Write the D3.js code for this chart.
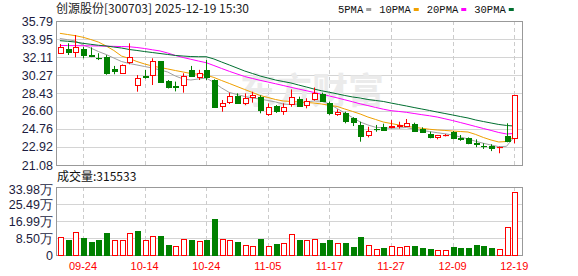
<!DOCTYPE html>
<html lang="zh">
<head>
<meta charset="utf-8">
<title>创源股份 日K</title>
<script src="https://cdn.jsdelivr.net/npm/d3@7/dist/d3.min.js"></script>
<style>
  body { margin: 0; background: #fff; }
  svg { display: block; font-family: "Liberation Sans", Arial, sans-serif; }
</style>
</head>
<body>
<div id="chart"></div>
<script>
// trading days
var dates = ["09-19","09-22","09-23","09-24","09-25","09-26","09-29","09-30","10-09","10-10",
             "10-13","10-14","10-15","10-16","10-17","10-20","10-21","10-22","10-23","10-24",
             "10-27","10-28","10-29","10-30","10-31","11-03","11-04","11-05","11-06","11-07",
             "11-10","11-11","11-12","11-13","11-14","11-17","11-18","11-19","11-20","11-21",
             "11-24","11-25","11-26","11-27","11-28","12-01","12-02","12-03","12-04","12-05",
             "12-08","12-09","12-10","12-11","12-12","12-15","12-16","12-17","12-18","12-19"];

var open  = [32.59,32.93,32.65,32.93,32.30,32.05,32.15,30.85,30.45,31.63,
             29.32,30.20,30.27,31.70,29.66,29.20,29.32,30.80,30.10,30.80,
             29.76,27.03,27.48,28.10,27.38,27.95,28.05,26.36,27.10,26.63,
             27.30,27.82,27.20,27.90,28.33,27.38,26.26,26.42,25.85,25.17,
             24.14,24.80,24.99,25.00,25.10,25.10,25.27,24.79,24.24,23.87,
             24.10,24.45,23.85,23.80,23.28,23.05,23.05,22.92,24.07,23.81];
var high  = [33.44,33.51,34.36,33.16,33.10,32.50,32.30,31.20,31.35,33.51,
             30.27,30.80,31.98,31.70,29.76,29.60,30.45,31.20,30.80,31.80,
             29.83,27.72,28.47,28.40,28.40,28.57,28.20,27.38,27.20,27.38,
             28.80,28.06,27.90,29.00,28.47,27.55,26.77,26.52,25.96,25.50,
             24.99,25.17,25.30,25.67,25.50,25.78,25.40,24.93,24.48,24.15,
             24.24,24.55,24.14,23.90,23.70,23.30,23.20,22.96,25.34,28.24];
var low   = [32.47,32.32,32.08,31.98,32.10,31.80,30.30,30.35,30.40,31.37,
             28.57,29.90,29.25,29.60,28.90,28.60,28.47,30.10,29.76,29.76,
             26.97,26.52,27.31,27.38,27.20,27.45,26.36,26.10,26.40,26.20,
             27.03,27.03,26.87,27.65,27.55,26.20,26.10,25.34,25.06,23.46,
             23.90,24.48,24.60,24.83,24.80,25.00,24.48,24.38,23.80,23.70,
             24.00,23.70,23.55,23.20,22.90,22.72,22.50,22.28,23.40,23.30];
var close = [33.16,32.65,33.16,32.32,32.20,32.00,30.55,30.60,31.30,32.14,
             30.00,30.10,31.70,29.60,29.00,29.10,30.20,30.15,30.50,30.10,
             27.03,27.38,28.10,27.38,27.90,28.20,26.70,27.03,26.63,27.03,
             28.06,27.14,27.65,28.47,27.65,26.36,26.46,25.58,25.40,24.04,
             24.55,24.76,24.72,25.10,25.20,25.37,24.60,24.48,23.90,24.11,
             24.14,23.80,23.78,23.25,23.22,23.00,22.85,22.96,23.53,28.24];

var volume = [91500,75000,113000,86000,66000,75000,111000,75000,75000,108000,
              120000,75000,95000,95000,50000,45000,80000,75000,70000,75000,
              180000,80000,75000,63000,50000,45000,80000,45000,55000,58000,
              105000,75000,75000,80000,58000,75000,58000,58000,40000,90000,
              50000,30000,34000,45000,38000,45000,45000,33000,30000,25000,
              25000,40000,35000,35000,50000,45000,35000,30000,140000,315533];

var ma5  = [34.00,33.88,33.75,33.34,33.03,32.67,32.37,32.01,31.65,31.45,
            31.30,31.14,30.99,30.79,30.58,30.17,29.87,29.76,29.87,29.97,
            29.51,28.95,28.49,28.28,28.08,27.92,27.82,27.67,27.52,27.31,
            27.26,27.31,27.52,27.62,27.59,27.31,26.85,26.39,25.93,25.47,
            25.17,24.93,24.88,24.83,24.86,24.91,24.74,24.61,24.50,24.38,
            24.27,24.15,23.94,23.74,23.50,23.30,23.12,22.95,22.99,23.95];
var ma10 = [34.53,34.41,34.29,34.13,33.90,33.64,33.24,32.78,32.21,31.96,
            31.65,31.40,31.19,31.04,30.89,30.73,30.58,30.43,30.35,30.27,
            30.02,29.71,29.41,29.10,28.79,28.49,28.18,27.98,27.77,27.62,
            27.57,27.52,27.47,27.41,27.31,27.18,27.06,26.80,26.55,26.29,
            25.98,25.73,25.47,25.32,25.17,25.03,24.93,24.83,24.73,24.66,
            24.61,24.55,24.50,24.45,24.20,23.89,23.63,23.43,23.48,23.97];
var ma20 = [33.29,33.28,33.27,33.26,33.25,33.24,33.22,33.20,33.18,33.16,
            33.08,32.98,32.85,32.73,32.52,32.27,32.06,31.88,31.70,31.53,
            31.24,30.94,30.65,30.38,30.12,29.92,29.73,29.56,29.38,29.20,
            29.02,28.84,28.67,28.49,28.30,28.13,27.94,27.74,27.54,27.33,
            27.15,26.96,26.78,26.63,26.55,26.46,26.34,26.22,26.11,25.98,
            25.80,25.62,25.42,25.22,25.01,24.81,24.61,24.40,24.25,24.30];
var ma30 = [33.78,33.72,33.64,33.51,33.41,33.31,33.24,33.13,33.03,32.88,
            32.78,32.67,32.57,32.47,32.37,32.27,32.21,32.16,32.14,32.14,
            31.91,31.60,31.30,30.99,30.68,30.43,30.17,29.97,29.76,29.61,
            29.46,29.25,29.05,28.84,28.66,28.51,28.35,28.18,28.03,27.92,
            27.77,27.67,27.57,27.41,27.26,27.11,26.95,26.80,26.65,26.49,
            26.34,26.19,26.03,25.88,25.68,25.52,25.37,25.22,25.12,25.06];

var priceTicks = [21.08, 22.92, 24.76, 26.60, 28.43, 30.27, 32.11, 33.95, 35.79];
var volTicks = [0, 84950, 169900, 254850, 339800];
var volTickLabels = ["0", "8.50万", "16.99万", "25.49万", "33.98万"];
var dateTicks = ["09-24","10-14","10-24","11-05","11-17","11-27","12-09","12-19"];
var maNames = ["5PMA", "10PMA", "20PMA", "30PMA"];
var maColors = ["#a0a0a0", "#f0a000", "#ff00ff", "#006f30"];

var title = "创源股份[300703] 2025-12-19 15:30";
var volTitle = "成交量:315533";

var W = 578, H = 276;
var left = 56, right = 522;
var pTop = 21, pBottom = 165;
var vTop = 187, vBottom = 255;
var UP = "#ff0000", DOWN = "#008000";

var svg = d3.select("#chart").append("svg")
    .attr("width", W)
    .attr("height", H);

// scales
var x = d3.scalePoint().domain(dates).range([59.9, 514.2]);
var y = d3.scaleLinear().domain([21.08, 35.79]).range([pBottom, pTop]);
var yv = d3.scaleLinear().domain([0, 339800]).range([vBottom, vTop]);

function px(v) { return Math.round(v) + 0.5; }

// horizontal grid
svg.append("g").selectAll("line")
    .data(priceTicks.slice(1, -1))
    .enter().append("line")
    .attr("x1", left).attr("x2", right)
    .attr("y1", function(d) { return px(y(d)); })
    .attr("y2", function(d) { return px(y(d)); })
    .attr("stroke", "#d4d4d4");

svg.append("g").selectAll("line")
    .data(volTicks.slice(1, -1))
    .enter().append("line")
    .attr("x1", left).attr("x2", right)
    .attr("y1", function(d) { return px(yv(d)); })
    .attr("y2", function(d) { return px(yv(d)); })
    .attr("stroke", "#d4d4d4");

// vertical dashed grid
[[pTop, pBottom], [vTop, vBottom]].forEach(function(r) {
    svg.append("g").selectAll("line")
        .data(dateTicks)
        .enter().append("line")
        .attr("x1", function(d) { return px(x(d)); })
        .attr("x2", function(d) { return px(x(d)); })
        .attr("y1", r[0]).attr("y2", r[1])
        .attr("stroke", "#cccccc")
        .attr("stroke-dasharray", "4,3");
});

// watermark
svg.append("text")
    .attr("x", 312).attr("y", 104)
    .attr("text-anchor", "middle")
    .style("font-family", "'Noto Sans CJK SC', sans-serif")
    .style("font-size", "36px")
    .style("font-weight", "bold")
    .style("fill", "#ebebeb")
    .text("东方财富");

// frames
[[pTop, pBottom], [vTop, vBottom]].forEach(function(r) {
    svg.append("rect")
        .attr("x", left + 0.5).attr("y", r[0] + 0.5)
        .attr("width", right - left).attr("height", r[1] - r[0])
        .attr("fill", "none")
        .attr("stroke", "#999999");
});

// moving averages
var mas = [ma5, ma10, ma20, ma30];
var line = d3.line()
    .x(function(d, i) { return x(dates[i]); })
    .y(function(d) { return y(d); });
mas.forEach(function(m, k) {
    svg.append("path")
        .datum(m)
        .attr("d", line)
        .attr("fill", "none")
        .attr("stroke", maColors[k])
        .attr("stroke-width", 1);
});

// candles
var candles = dates.map(function(d, i) {
    return { date: d, o: open[i], h: high[i], l: low[i], c: close[i], v: volume[i],
             prev: i > 0 ? close[i - 1] : open[i] };
});

var k = svg.append("g").selectAll("g")
    .data(candles)
    .enter().append("g");

k.append("line")
    .attr("x1", function(d) { return px(x(d.date)); })
    .attr("x2", function(d) { return px(x(d.date)); })
    .attr("y1", function(d) { return y(d.h); })
    .attr("y2", function(d) { return y(d.l); })
    .attr("stroke", function(d) { return d.c >= d.o ? UP : DOWN; });

k.append("rect")
    .attr("x", function(d) { return Math.round(x(d.date)) - 2 + 0.5; })
    .attr("width", 5)
    .attr("y", function(d) { return Math.round(y(Math.max(d.o, d.c))) + 0.5; })
    .attr("height", function(d) { return Math.max(0.1, Math.round(Math.abs(y(d.o) - y(d.c)))); })
    .attr("fill", function(d) { return d.c >= d.o ? "#ffffff" : DOWN; })
    .attr("stroke", function(d) { return d.c >= d.o ? UP : DOWN; });

// volume bars
svg.append("g").selectAll("rect")
    .data(candles)
    .enter().append("rect")
    .attr("x", function(d) { return Math.round(x(d.date)) - 2 + 0.5; })
    .attr("width", 5)
    .attr("y", function(d) { return Math.round(yv(d.v)) + 0.5; })
    .attr("height", function(d) { return vBottom - Math.round(yv(d.v)); })
    .attr("fill", function(d) { return d.c >= d.prev ? "#ffffff" : DOWN; })
    .attr("stroke", function(d) { return d.c >= d.prev ? UP : DOWN; });

// y axis labels
svg.append("g").selectAll("text")
    .data(priceTicks)
    .enter().append("text")
    .attr("x", 53)
    .attr("y", function(d) { return y(d); })
    .attr("dy", "0.36em")
    .attr("text-anchor", "end")
    .style("font-size", "12.5px")
    .style("fill", "#1c1c40")
    .text(function(d) { return d3.format(".2f")(d); });

svg.append("g").selectAll("text")
    .data(volTicks)
    .enter().append("text")
    .attr("x", 53)
    .attr("y", function(d, i) { return i == volTicks.length - 1 ? yv(d) + 2 : yv(d); })
    .attr("dy", "0.36em")
    .attr("text-anchor", "end")
    .style("font-size", "12.5px")
    .style("fill", "#1c1c40")
    .text(function(d, i) { return volTickLabels[i]; });

// x axis labels
svg.append("g").selectAll("text")
    .data(dateTicks)
    .enter().append("text")
    .attr("x", function(d) { return x(d); })
    .attr("y", 270)
    .attr("text-anchor", "middle")
    .style("font-size", "11px")
    .style("fill", "#ff0000")
    .text(function(d) { return d; });

// titles
svg.append("text")
    .attr("x", 56).attr("y", 13)
    .style("font-family", "'Noto Sans CJK SC', sans-serif")
    .style("font-size", "12px")
    .style("fill", "#222")
    .text(title);

svg.append("text")
    .attr("x", 57).attr("y", 181)
    .style("font-family", "'Noto Sans CJK SC', sans-serif")
    .style("font-size", "12px")
    .style("fill", "#111")
    .text(volTitle);

// legend
var lx = 338;
maNames.forEach(function(n, i) {
    var t = svg.append("text")
        .attr("x", lx).attr("y", 13)
        .style("font-family", "'Liberation Mono', monospace")
        .style("font-size", "10.5px")
        .style("fill", "#111")
        .text(n);
    var w = t.node().getComputedTextLength();
    svg.append("rect")
        .attr("x", lx + w + 3).attr("y", 8)
        .attr("width", 5).attr("height", 3)
        .attr("fill", maColors[i]);
    lx = lx + w + 16;
});
</script>
</body>
</html>
